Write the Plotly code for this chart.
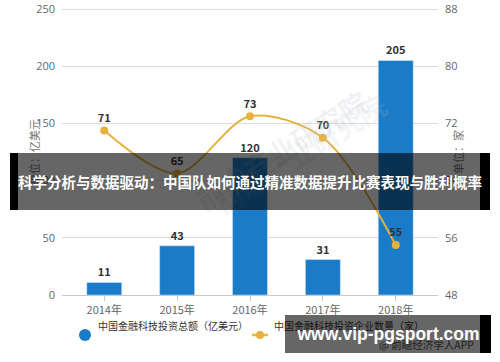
import plotly.graph_objects as go

years = ["2014年", "2015年", "2016年", "2017年", "2018年"]
invest = [11, 43, 120, 31, 205]          # 亿美元
companies = [71, 65, 73, 70, 55]         # 家
left_ticks = [0, 50, 100, 150, 200, 250]
right_ticks = [48, 56, 64, 72, 80, 88]

bar_name = "中国金融科技投资总额（亿美元）"
line_name = "中国金融科技投资企业数量（家）"
banner_text = "科学分析与数据驱动：中国队如何通过精准数据提升比赛表现与胜利概率"

W, H = 500, 362
L, R, T, B = 62, 62, 6, 67
PW, PH = W - L - R, H - T - B
EXT = PH / 286.0  # small headroom so the top gridline is not clipped

def px(x):
    return (x - L) / PW

def py(y):
    return (H - B - y) / PH

BLUE = "#1a7bc8"
GOLD = "#e8b13e"
FONT = "Noto Sans CJK SC"
TICKFONT = dict(size=11, color="#666", family="Open Sans")

fig = go.Figure()
fig.add_trace(go.Bar(
    x=years, y=invest, marker_color=BLUE, width=0.48,
    text=invest, textposition="outside", cliponaxis=False,
    textfont=dict(size=11, color="#333", family=FONT, weight="bold"),
    showlegend=False,
))
fig.add_trace(go.Scatter(
    x=years, y=companies, yaxis="y2", mode="lines+markers+text",
    line=dict(color=GOLD, width=2, shape="spline", smoothing=0.9),
    marker=dict(size=8, color=GOLD),
    text=companies, textposition="top center", cliponaxis=False,
    textfont=dict(size=11, color="#333", family=FONT, weight="bold"),
    showlegend=False,
))

shapes = []
annotations = []

def box(cx, cy, w, h, color, text="", font=None):
    annotations.append(dict(x=px(cx), y=py(cy), xref="paper", yref="paper",
                            xanchor="center", yanchor="middle",
                            text=text if text else " ", showarrow=False,
                            width=w, height=h, bgcolor=color, borderpad=0, borderwidth=0,
                            font=font or dict(size=10, color=color)))

# faint watermark
annotations.append(dict(x=px(185), y=py(78), xref="paper", yref="paper",
                        text="前瞻产业研究院", showarrow=False, textangle=-32,
                        font=dict(size=28, color="rgba(190,195,205,0.22)", family=FONT, weight="bold")))
annotations.append(dict(x=px(300), y=py(225), xref="paper", yref="paper",
                        text="前瞻产业研究院", showarrow=False, textangle=-32,
                        font=dict(size=28, color="rgba(190,195,205,0.16)", family=FONT, weight="bold")))

# axis titles
annotations.append(dict(x=px(24), y=py(152), xref="paper", yref="paper",
                        text="单位：亿美元", showarrow=False, textangle=-90,
                        font=dict(size=11, color="#777", family=FONT)))
annotations.append(dict(x=px(468), y=py(152), xref="paper", yref="paper",
                        text="单位：家", showarrow=False, textangle=-90,
                        font=dict(size=11, color="#777", family=FONT)))

# legend (manual)
shapes.append(dict(type="circle", xref="paper", yref="paper",
                   x0=px(79), x1=px(91), y0=py(329), y1=py(341),
                   fillcolor=BLUE, line=dict(width=0)))
annotations.append(dict(x=px(96), y=py(335), xref="paper", yref="paper", xanchor="left",
                        text=bar_name, showarrow=False,
                        font=dict(size=10, color="#333", family=FONT)))
shapes.append(dict(type="line", xref="paper", yref="paper",
                   x0=px(252), x1=px(268), y0=py(335), y1=py(335),
                   line=dict(color=GOLD, width=2.5)))
shapes.append(dict(type="circle", xref="paper", yref="paper",
                   x0=px(256), x1=px(264), y0=py(331), y1=py(339),
                   fillcolor=GOLD, line=dict(width=0)))
annotations.append(dict(x=px(272), y=py(335), xref="paper", yref="paper", xanchor="left",
                        text=line_name, showarrow=False,
                        font=dict(size=10, color="#333", family=FONT)))
annotations.append(dict(x=px(476), y=py(354), xref="paper", yref="paper", xanchor="right",
                        text="@ 前瞻经济学人APP", showarrow=False,
                        font=dict(size=10.5, color="#555", family=FONT)))

# banner overlay (black edge strips first, translucent band with text on top)
box(14, 181.5, 8, 57, "#000")
box(485, 181.5, 10, 57, "#000")
box(250, 181.5, 480, 57, "rgba(0,0,0,0.6)", banner_text,
    dict(size=14.5, color="white", family=FONT, weight="bold"))

# bottom site watermark
box(485.5, 334, 11, 38, "#000")
box(388, 334, 206, 38, "rgba(0,0,0,0.6)", "www.vip-pgsport.com",
    dict(size=17.5, color="white", family="Liberation Sans", weight="bold"))

fig.update_layout(
    width=W, height=H,
    margin=dict(l=L, r=R, t=T, b=B),
    paper_bgcolor="white", plot_bgcolor="white",
    font=dict(family=FONT, color="#666", size=11),
    showlegend=False,
    xaxis=dict(range=[-0.58, 4.58], showline=True, linecolor="#c8c8c8", linewidth=1,
               ticks="outside", ticklen=5, tickcolor="#c8c8c8", showgrid=False,
               tickfont=dict(size=11, color="#666")),
    yaxis=dict(range=[0, 250 * EXT], tickvals=left_ticks, showgrid=True,
               gridcolor="#dcdcdc", zeroline=False, showline=False, ticks="",
               ticklabelstandoff=6, ticklabeloverflow="allow", automargin=False,
               tickfont=TICKFONT),
    yaxis2=dict(range=[48, 48 + 40 * EXT], tickvals=right_ticks, overlaying="y",
                side="right", showgrid=False, zeroline=False, showline=False,
                ticklabelstandoff=6, ticklabeloverflow="allow", automargin=False,
                tickfont=TICKFONT),
    shapes=shapes, annotations=annotations,
)

fig.write_html("out.html", config={"displayModeBar": False},
               post_script="document.body.style.margin='0';document.body.style.overflow='hidden';")
